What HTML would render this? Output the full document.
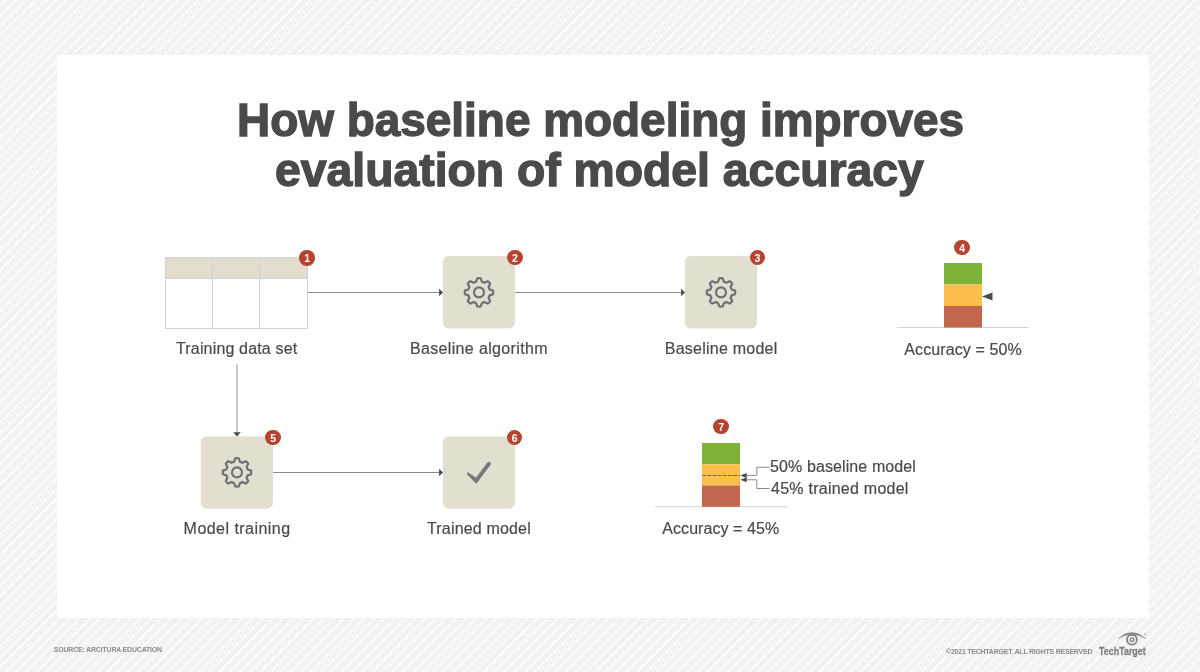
<!DOCTYPE html>
<html><head><meta charset="utf-8"><style>
*{margin:0;padding:0;box-sizing:border-box}
html,body{width:1200px;height:672px;overflow:hidden}
body{position:relative;background-color:#f1f2f2;
font-family:"Liberation Sans",Arial,sans-serif;}
.card{position:absolute;left:57px;top:55px;width:1092px;height:563px;background:#fff}
svg.d,svg.bg{position:absolute;left:0;top:0}
.edge{position:absolute;left:1199px;top:0;width:1px;height:672px;background:#f4f5f5}
.tx{position:absolute;white-space:nowrap;line-height:1;transform-origin:0 0}
.badge{position:absolute;width:15.5px;height:15.5px;border-radius:50%;background:#b5432f;color:#fff;font-weight:700;font-size:10.5px;line-height:16.7px;text-align:center}
</style></head><body>
<svg class="bg" width="1200" height="672" viewBox="0 0 1200 672"><path d="M-9.86 -5L-690.84 677M0.31 -5L-680.67 677M10.48 -5L-670.49 677M20.65 -5L-660.32 677M30.83 -5L-650.15 677M41.00 -5L-639.98 677M51.17 -5L-629.81 677M61.34 -5L-619.63 677M71.51 -5L-609.46 677M81.69 -5L-599.29 677M91.86 -5L-589.12 677M102.03 -5L-578.95 677M112.20 -5L-568.77 677M122.37 -5L-558.60 677M132.55 -5L-548.43 677M142.72 -5L-538.26 677M152.89 -5L-528.09 677M163.06 -5L-517.91 677M173.23 -5L-507.74 677M183.41 -5L-497.57 677M193.58 -5L-487.40 677M203.75 -5L-477.23 677M213.92 -5L-467.05 677M224.09 -5L-456.88 677M234.27 -5L-446.71 677M244.44 -5L-436.54 677M254.61 -5L-426.37 677M264.78 -5L-416.19 677M274.95 -5L-406.02 677M285.13 -5L-395.85 677M295.30 -5L-385.68 677M305.47 -5L-375.51 677M315.64 -5L-365.33 677M325.81 -5L-355.16 677M335.99 -5L-344.99 677M346.16 -5L-334.82 677M356.33 -5L-324.65 677M366.50 -5L-314.47 677M376.67 -5L-304.30 677M386.85 -5L-294.13 677M397.02 -5L-283.96 677M407.19 -5L-273.79 677M417.36 -5L-263.61 677M427.53 -5L-253.44 677M437.71 -5L-243.27 677M447.88 -5L-233.10 677M458.05 -5L-222.93 677M468.22 -5L-212.75 677M478.39 -5L-202.58 677M488.57 -5L-192.41 677M498.74 -5L-182.24 677M508.91 -5L-172.07 677M519.08 -5L-161.89 677M529.25 -5L-151.72 677M539.43 -5L-141.55 677M549.60 -5L-131.38 677M559.77 -5L-121.21 677M569.94 -5L-111.03 677M580.11 -5L-100.86 677M590.29 -5L-90.69 677M600.46 -5L-80.52 677M610.63 -5L-70.35 677M620.80 -5L-60.17 677M630.97 -5L-50.00 677M641.15 -5L-39.83 677M651.32 -5L-29.66 677M661.49 -5L-19.49 677M671.66 -5L-9.31 677M681.83 -5L0.86 677M692.01 -5L11.03 677M702.18 -5L21.20 677M712.35 -5L31.37 677M722.52 -5L41.55 677M732.69 -5L51.72 677M742.87 -5L61.89 677M753.04 -5L72.06 677M763.21 -5L82.23 677M773.38 -5L92.41 677M783.55 -5L102.58 677M793.73 -5L112.75 677M803.90 -5L122.92 677M814.07 -5L133.09 677M824.24 -5L143.27 677M834.41 -5L153.44 677M844.59 -5L163.61 677M854.76 -5L173.78 677M864.93 -5L183.95 677M875.10 -5L194.13 677M885.27 -5L204.30 677M895.45 -5L214.47 677M905.62 -5L224.64 677M915.79 -5L234.81 677M925.96 -5L244.99 677M936.13 -5L255.16 677M946.31 -5L265.33 677M956.48 -5L275.50 677M966.65 -5L285.67 677M976.82 -5L295.85 677M986.99 -5L306.02 677M997.17 -5L316.19 677M1007.34 -5L326.36 677M1017.51 -5L336.53 677M1027.68 -5L346.71 677M1037.85 -5L356.88 677M1048.03 -5L367.05 677M1058.20 -5L377.22 677M1068.37 -5L387.39 677M1078.54 -5L397.57 677M1088.71 -5L407.74 677M1098.89 -5L417.91 677M1109.06 -5L428.08 677M1119.23 -5L438.25 677M1129.40 -5L448.43 677M1139.57 -5L458.60 677M1149.75 -5L468.77 677M1159.92 -5L478.94 677M1170.09 -5L489.11 677M1180.26 -5L499.29 677M1190.43 -5L509.46 677M1200.61 -5L519.63 677M1210.78 -5L529.80 677M1220.95 -5L539.97 677M1231.12 -5L550.15 677M1241.29 -5L560.32 677M1251.47 -5L570.49 677M1261.64 -5L580.66 677M1271.81 -5L590.83 677M1281.98 -5L601.01 677M1292.15 -5L611.18 677M1302.33 -5L621.35 677M1312.50 -5L631.52 677M1322.67 -5L641.69 677M1332.84 -5L651.87 677M1343.01 -5L662.04 677M1353.19 -5L672.21 677M1363.36 -5L682.38 677M1373.53 -5L692.55 677M1383.70 -5L702.73 677M1393.87 -5L712.90 677M1404.05 -5L723.07 677M1414.22 -5L733.24 677M1424.39 -5L743.41 677M1434.56 -5L753.59 677M1444.73 -5L763.76 677M1454.91 -5L773.93 677M1465.08 -5L784.10 677M1475.25 -5L794.27 677M1485.42 -5L804.45 677M1495.59 -5L814.62 677M1505.77 -5L824.79 677M1515.94 -5L834.96 677M1526.11 -5L845.13 677M1536.28 -5L855.31 677M1546.45 -5L865.48 677M1556.63 -5L875.65 677M1566.80 -5L885.82 677M1576.97 -5L895.99 677M1587.14 -5L906.17 677M1597.31 -5L916.34 677M1607.49 -5L926.51 677M1617.66 -5L936.68 677M1627.83 -5L946.85 677M1638.00 -5L957.03 677M1648.17 -5L967.20 677M1658.35 -5L977.37 677M1668.52 -5L987.54 677M1678.69 -5L997.71 677M1688.86 -5L1007.89 677M1699.03 -5L1018.06 677M1709.21 -5L1028.23 677M1719.38 -5L1038.40 677M1729.55 -5L1048.57 677M1739.72 -5L1058.75 677M1749.89 -5L1068.92 677M1760.07 -5L1079.09 677M1770.24 -5L1089.26 677M1780.41 -5L1099.43 677M1790.58 -5L1109.61 677M1800.75 -5L1119.78 677M1810.93 -5L1129.95 677M1821.10 -5L1140.12 677M1831.27 -5L1150.29 677M1841.44 -5L1160.47 677M1851.61 -5L1170.64 677M1861.79 -5L1180.81 677M1871.96 -5L1190.98 677M1882.13 -5L1201.15 677" stroke="#ffffff" stroke-width="1.1" fill="none"/></svg><div class="edge"></div>
<div class="card"></div>
<svg class="d" width="1200" height="672" viewBox="0 0 1200 672">
<rect x="165.5" y="257.5" width="142" height="21" fill="#e2ddcf"/><rect x="165.5" y="257.5" width="142" height="71" fill="none" stroke="#d0d2d4" stroke-width="1"/><line x1="165.5" y1="278.5" x2="307.5" y2="278.5" stroke="#d0d2d4"/><line x1="212.5" y1="257.5" x2="212.5" y2="328.5" stroke="#d0d2d4"/><line x1="259.5" y1="257.5" x2="259.5" y2="328.5" stroke="#d0d2d4"/><rect x="442.8" y="256" width="72.2" height="72.6" rx="6" fill="#e3dfd0"/><rect x="684.9" y="256" width="72.2" height="72.6" rx="6" fill="#e3dfd0"/><rect x="200.8" y="436.2" width="72.2" height="72.6" rx="6" fill="#e3dfd0"/><rect x="442.8" y="436.2" width="72.2" height="72.6" rx="6" fill="#e3dfd0"/><g transform="translate(479 292.4)"><path d="M-2.94 -10.60 L-1.78 -14.09 A14.20 14.20 0 0 1 1.78 -14.09 L2.94 -10.60 A11.00 11.00 0 0 1 5.42 -9.57 L8.70 -11.22 A14.20 14.20 0 0 1 11.22 -8.70 L9.57 -5.42 A11.00 11.00 0 0 1 10.60 -2.94 L14.09 -1.78 A14.20 14.20 0 0 1 14.09 1.78 L10.60 2.94 A11.00 11.00 0 0 1 9.57 5.42 L11.22 8.70 A14.20 14.20 0 0 1 8.70 11.22 L5.42 9.57 A11.00 11.00 0 0 1 2.94 10.60 L1.78 14.09 A14.20 14.20 0 0 1 -1.78 14.09 L-2.94 10.60 A11.00 11.00 0 0 1 -5.42 9.57 L-8.70 11.22 A14.20 14.20 0 0 1 -11.22 8.70 L-9.57 5.42 A11.00 11.00 0 0 1 -10.60 2.94 L-14.09 1.78 A14.20 14.20 0 0 1 -14.09 -1.78 L-10.60 -2.94 A11.00 11.00 0 0 1 -9.57 -5.42 L-11.22 -8.70 A14.20 14.20 0 0 1 -8.70 -11.22 L-5.42 -9.57 A11.00 11.00 0 0 1 -2.94 -10.60 Z" fill="none" stroke="#6f7073" stroke-width="2.2" stroke-linejoin="round"/><circle r="5" fill="none" stroke="#6f7073" stroke-width="2.1"/></g><g transform="translate(721 292.4)"><path d="M-2.94 -10.60 L-1.78 -14.09 A14.20 14.20 0 0 1 1.78 -14.09 L2.94 -10.60 A11.00 11.00 0 0 1 5.42 -9.57 L8.70 -11.22 A14.20 14.20 0 0 1 11.22 -8.70 L9.57 -5.42 A11.00 11.00 0 0 1 10.60 -2.94 L14.09 -1.78 A14.20 14.20 0 0 1 14.09 1.78 L10.60 2.94 A11.00 11.00 0 0 1 9.57 5.42 L11.22 8.70 A14.20 14.20 0 0 1 8.70 11.22 L5.42 9.57 A11.00 11.00 0 0 1 2.94 10.60 L1.78 14.09 A14.20 14.20 0 0 1 -1.78 14.09 L-2.94 10.60 A11.00 11.00 0 0 1 -5.42 9.57 L-8.70 11.22 A14.20 14.20 0 0 1 -11.22 8.70 L-9.57 5.42 A11.00 11.00 0 0 1 -10.60 2.94 L-14.09 1.78 A14.20 14.20 0 0 1 -14.09 -1.78 L-10.60 -2.94 A11.00 11.00 0 0 1 -9.57 -5.42 L-11.22 -8.70 A14.20 14.20 0 0 1 -8.70 -11.22 L-5.42 -9.57 A11.00 11.00 0 0 1 -2.94 -10.60 Z" fill="none" stroke="#6f7073" stroke-width="2.2" stroke-linejoin="round"/><circle r="5" fill="none" stroke="#6f7073" stroke-width="2.1"/></g><g transform="translate(237 472.4)"><path d="M-2.94 -10.60 L-1.78 -14.09 A14.20 14.20 0 0 1 1.78 -14.09 L2.94 -10.60 A11.00 11.00 0 0 1 5.42 -9.57 L8.70 -11.22 A14.20 14.20 0 0 1 11.22 -8.70 L9.57 -5.42 A11.00 11.00 0 0 1 10.60 -2.94 L14.09 -1.78 A14.20 14.20 0 0 1 14.09 1.78 L10.60 2.94 A11.00 11.00 0 0 1 9.57 5.42 L11.22 8.70 A14.20 14.20 0 0 1 8.70 11.22 L5.42 9.57 A11.00 11.00 0 0 1 2.94 10.60 L1.78 14.09 A14.20 14.20 0 0 1 -1.78 14.09 L-2.94 10.60 A11.00 11.00 0 0 1 -5.42 9.57 L-8.70 11.22 A14.20 14.20 0 0 1 -11.22 8.70 L-9.57 5.42 A11.00 11.00 0 0 1 -10.60 2.94 L-14.09 1.78 A14.20 14.20 0 0 1 -14.09 -1.78 L-10.60 -2.94 A11.00 11.00 0 0 1 -9.57 -5.42 L-11.22 -8.70 A14.20 14.20 0 0 1 -8.70 -11.22 L-5.42 -9.57 A11.00 11.00 0 0 1 -2.94 -10.60 Z" fill="none" stroke="#6f7073" stroke-width="2.2" stroke-linejoin="round"/><circle r="5" fill="none" stroke="#6f7073" stroke-width="2.1"/></g><polygon points="467.6,472.5 476.1,477.9 487.3,462.9 489.4,461.8 490.8,464.1 476.3,483.5 467.3,474.4" fill="#77787b" stroke="#77787b" stroke-width="0.6" stroke-linejoin="round"/><line x1="308" y1="292.5" x2="440" y2="292.5" stroke="#8a8b8e" stroke-width="1"/><polygon points="439.1,288.8 443,292.5 439.1,296.2" fill="#4a4a4d"/><line x1="515" y1="292.5" x2="682" y2="292.5" stroke="#8a8b8e" stroke-width="1"/><polygon points="681.1,288.8 685,292.5 681.1,296.2" fill="#4a4a4d"/><line x1="273" y1="472.5" x2="440" y2="472.5" stroke="#8a8b8e" stroke-width="1"/><polygon points="439.1,468.8 443,472.5 439.1,476.2" fill="#4a4a4d"/><line x1="237" y1="364.5" x2="237" y2="432" stroke="#8a8b8e" stroke-width="1"/><polygon points="233.2,432.3 240.8,432.3 237,436.6" fill="#4a4a4d"/><line x1="897" y1="327.5" x2="1029" y2="327.5" stroke="#d1d2d3" stroke-width="1"/><rect x="944" y="263" width="38" height="21.5" fill="#80b23a"/><rect x="944" y="284.5" width="38" height="21.5" fill="#fcbf4e"/><rect x="944" y="306" width="38" height="21.5" fill="#c2664e"/><polygon points="982,296.5 992.5,292.5 992.5,300.5" fill="#4a4a4d"/><line x1="655" y1="506.8" x2="787" y2="506.8" stroke="#d1d2d3" stroke-width="1"/><rect x="702" y="443" width="38" height="21.3" fill="#80b23a"/><rect x="702" y="464.3" width="38" height="21.2" fill="#fcbf4e"/><rect x="702" y="485.5" width="38" height="21.3" fill="#c2664e"/><line x1="702" y1="475.5" x2="740" y2="475.5" stroke="#5f6063" stroke-width="0.9" stroke-dasharray="4 1.2"/><polyline points="745,475.4 756.8,475.4 756.8,467.3 769.5,467.3" fill="none" stroke="#8a8b8e" stroke-width="1"/><polyline points="745,479.8 756.8,479.8 756.8,488.5 769.5,488.5" fill="none" stroke="#8a8b8e" stroke-width="1"/><polygon points="740.3,475.4 746.7,472.9 746.7,477.9" fill="#4a4a4d"/><polygon points="740.3,479.8 746.7,477.3 746.7,482.3" fill="#4a4a4d"/>
<g fill="none" stroke="#808285">
<path d="M1118.2 638.6 Q1131.8 626.2 1145.8 638.6 Q1131.8 630.4 1118.2 638.6 Z" fill="#808285" stroke="#808285" stroke-width="0.4"/>
<circle cx="1131.9" cy="639.7" r="4.9" stroke-width="1.8"/>
<circle cx="1131.9" cy="639.7" r="1.8" stroke-width="1.4"/>
</g>
<circle cx="1145" cy="634.2" r="0.7" fill="#808285"/>
</svg>
<div class="badge" style="left:299.45px;top:250.05px">1</div><div class="badge" style="left:507.25px;top:249.55px">2</div><div class="badge" style="left:749.55px;top:249.55px">3</div><div class="badge" style="left:954.45px;top:239.85px">4</div><div class="badge" style="left:265.45px;top:429.75px">5</div><div class="badge" style="left:506.95000000000005px;top:429.95px">6</div><div class="badge" style="left:713.45px;top:418.55px">7</div>
<div class="tx" style="left:236.95px;top:96.21px;font-size:47px;font-weight:700;color:#4a4a4d;-webkit-text-stroke:1.4px #4a4a4d;transform:scaleX(0.9769);">How baseline modeling improves</div><div class="tx" style="left:275.01px;top:146.21px;font-size:47px;font-weight:700;color:#4a4a4d;-webkit-text-stroke:1.4px #4a4a4d;transform:scaleX(0.9856);">evaluation of model accuracy</div><div class="tx" style="left:176.0px;top:340.96px;font-size:16px;font-weight:400;color:#4a4a4d;-webkit-text-stroke:0.2px #4a4a4d;letter-spacing:0.163px;">Training data set</div><div class="tx" style="left:409.9px;top:340.66px;font-size:16px;font-weight:400;color:#4a4a4d;-webkit-text-stroke:0.2px #4a4a4d;letter-spacing:0.353px;">Baseline algorithm</div><div class="tx" style="left:664.8px;top:340.66px;font-size:16px;font-weight:400;color:#4a4a4d;-webkit-text-stroke:0.2px #4a4a4d;letter-spacing:0.231px;">Baseline model</div><div class="tx" style="left:904.3px;top:341.76px;font-size:16px;font-weight:400;color:#4a4a4d;-webkit-text-stroke:0.2px #4a4a4d;letter-spacing:0.108px;">Accuracy = 50%</div><div class="tx" style="left:183.6px;top:521.06px;font-size:16px;font-weight:400;color:#4a4a4d;-webkit-text-stroke:0.2px #4a4a4d;letter-spacing:0.462px;">Model training</div><div class="tx" style="left:427.0px;top:520.86px;font-size:16px;font-weight:400;color:#4a4a4d;-webkit-text-stroke:0.2px #4a4a4d;letter-spacing:0.167px;">Trained model</div><div class="tx" style="left:662.3px;top:520.66px;font-size:16px;font-weight:400;color:#4a4a4d;-webkit-text-stroke:0.2px #4a4a4d;letter-spacing:0.062px;">Accuracy = 45%</div><div class="tx" style="left:770.0px;top:459.16px;font-size:16px;font-weight:400;color:#4a4a4d;-webkit-text-stroke:0.2px #4a4a4d;letter-spacing:0.106px;">50% baseline model</div><div class="tx" style="left:771.0px;top:480.96px;font-size:16px;font-weight:400;color:#4a4a4d;-webkit-text-stroke:0.2px #4a4a4d;letter-spacing:0.25px;">45% trained model</div><div class="tx" style="left:53.7px;top:645.97px;font-size:7px;font-weight:700;color:#8a8b8d;letter-spacing:-0.192px;">SOURCE: ARCITURA EDUCATION</div><div class="tx" style="left:946.0px;top:648.07px;font-size:7px;font-weight:700;color:#8a8b8d;letter-spacing:-0.239px;">©2021 TECHTARGET. ALL RIGHTS RESERVED</div><div class="tx" style="left:1099.0px;top:645.51px;font-size:10.5px;font-weight:700;color:#808285;-webkit-text-stroke:0.3px #808285;transform:scaleX(0.8491);">TechTarget</div>
</body></html>
